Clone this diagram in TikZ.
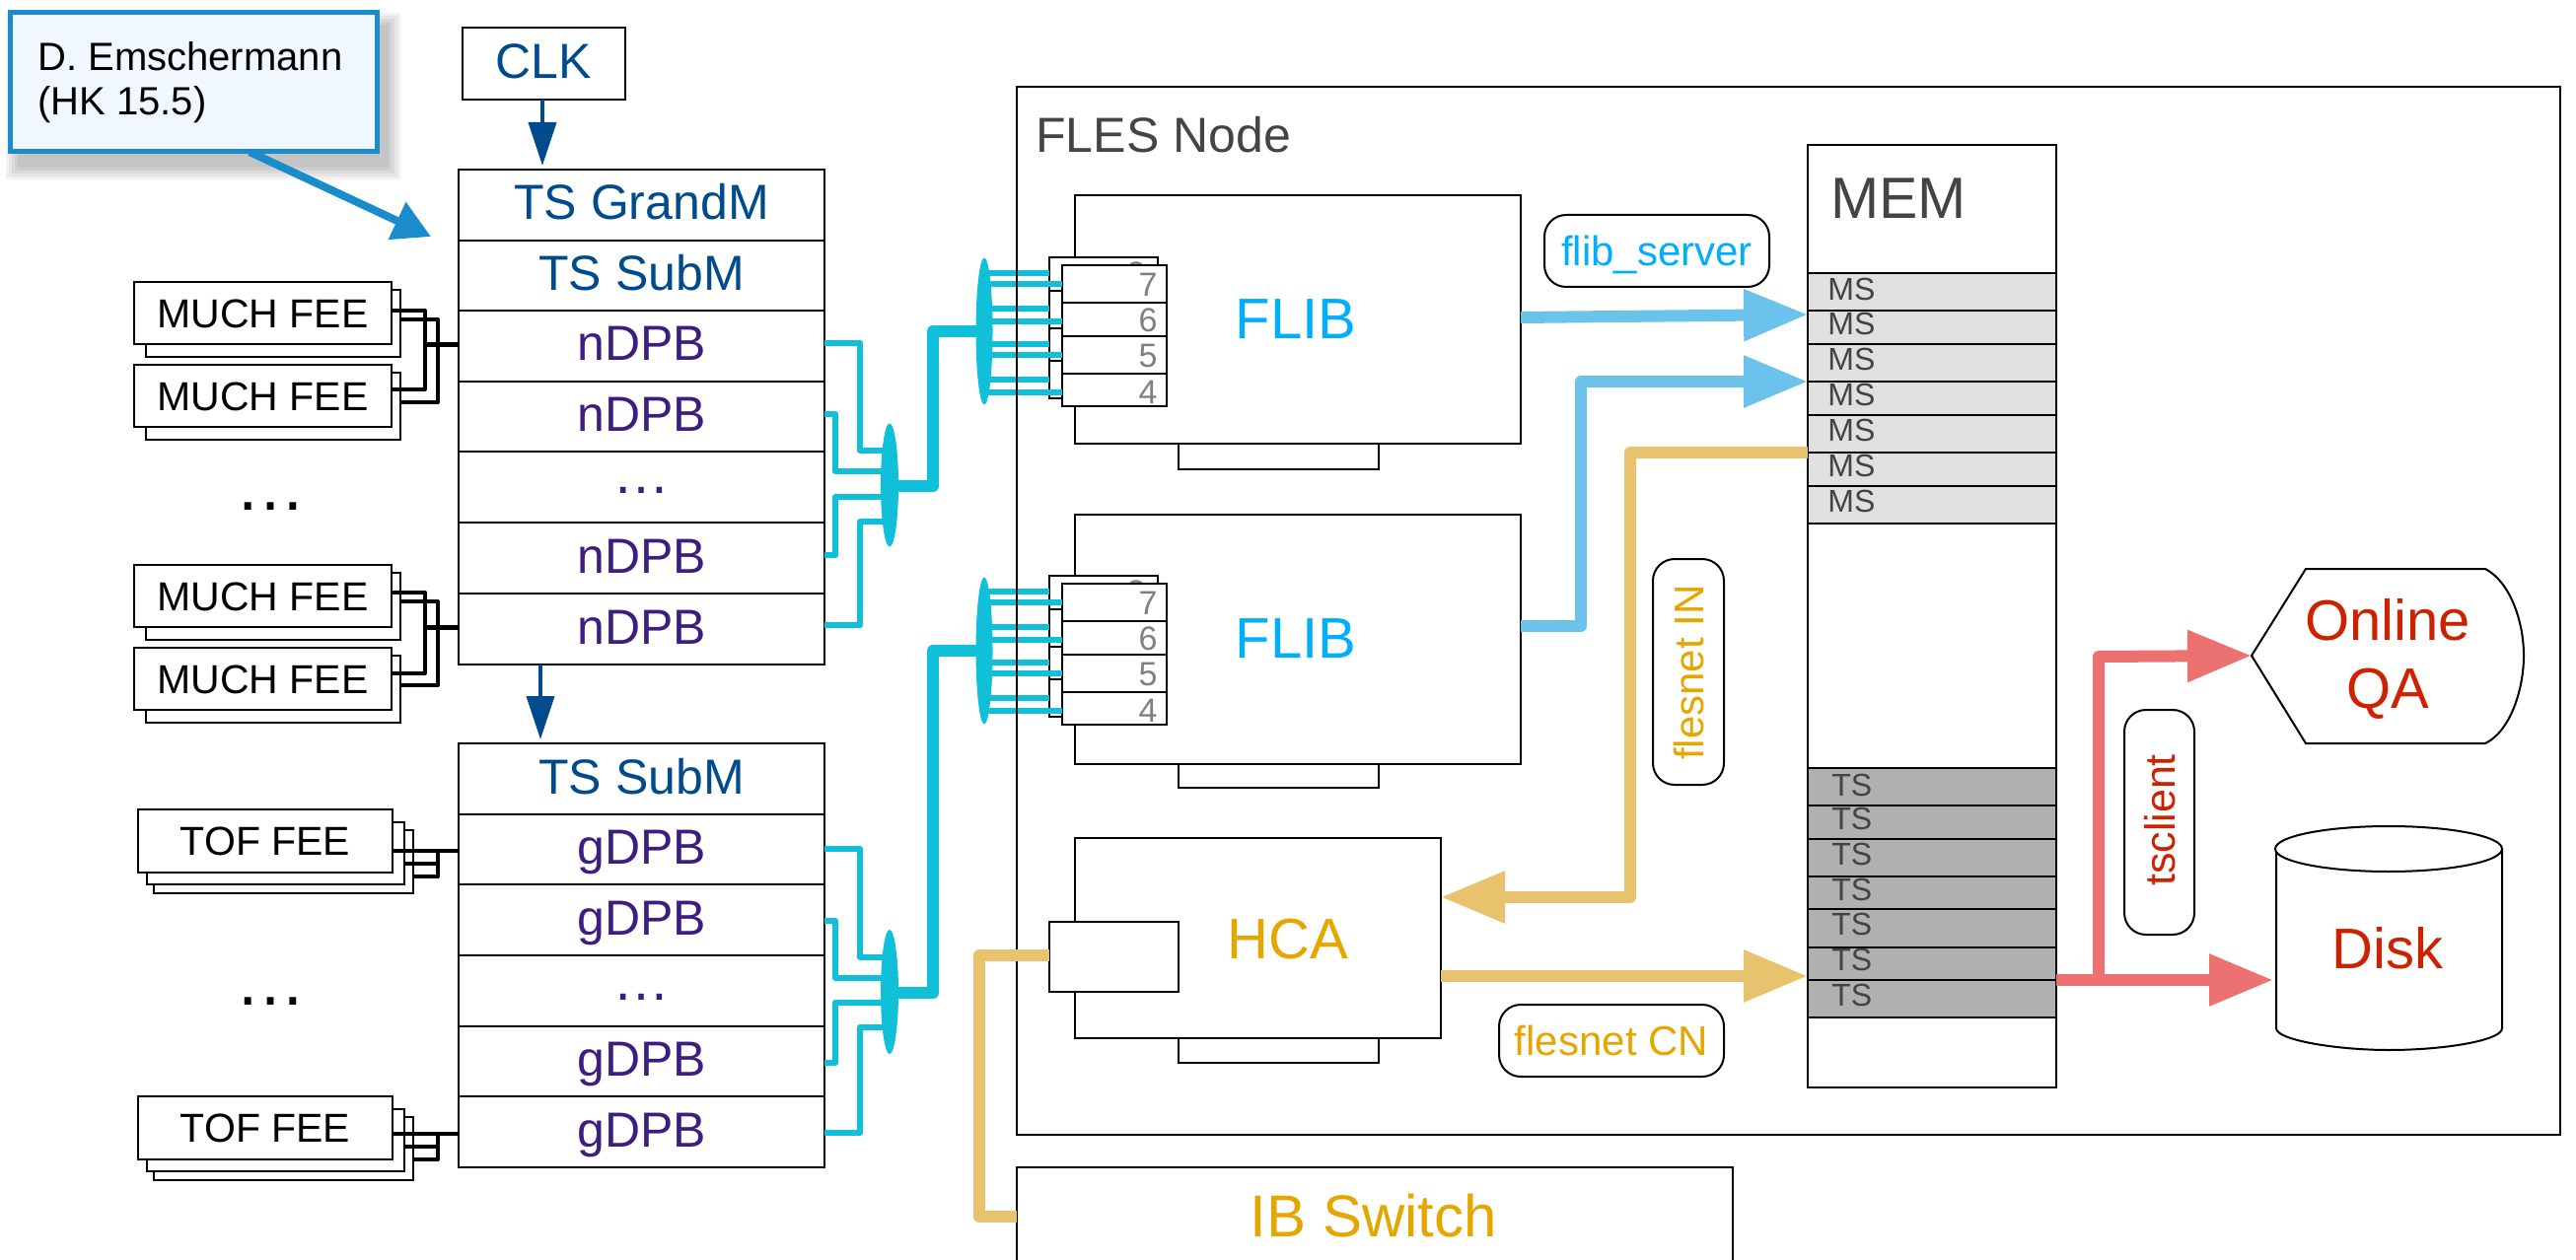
\documentclass[tikz,border=0pt]{standalone}
\usepackage{fontspec}
\setmainfont{Liberation Sans}
\usetikzlibrary{arrows.meta,shapes.geometric}
\definecolor{navyc}{HTML}{004B8D}
\definecolor{purplec}{HTML}{3D1D80}
\definecolor{cyanc}{HTML}{10C0D8}
\definecolor{flibc}{HTML}{00ADFF}
\definecolor{orangec}{HTML}{E6A600}
\definecolor{redc}{HTML}{CC2200}
\definecolor{greyc}{HTML}{444444}
\definecolor{lblue}{HTML}{6BC2EA}
\definecolor{lorange}{HTML}{E9C26E}
\definecolor{lred}{HTML}{EC7272}
\definecolor{callb}{HTML}{1A8CCC}
\definecolor{callf}{HTML}{F0F7FF}
\newcommand{\mybox}[7]{%
  \pgfmathsetmacro\bxw{(#5-(#3))*.5}\pgfmathsetmacro\bxh{(#6-(#4))*.5}%
  \node[#2,minimum width=\bxw pt,minimum height=\bxh pt] (#1) at ({(#3+#5)/2},{(#4+#6)/2}) {#7};}
\tikzset{
  thinbox/.style={draw=black,line width=1pt,fill=white,inner sep=0pt,outer sep=0pt,text height=0pt,text depth=0pt,anchor=center},
  plainbox/.style={draw=black,line width=1pt,inner sep=0pt,outer sep=0pt,anchor=center},
  coltext/.style={text height=18pt,text depth=3pt,font=\fontsize{25}{30}\selectfont},
  nav/.style={thinbox,coltext,text=navyc},
  pur/.style={thinbox,coltext,text=purplec},
  fee/.style={thinbox,text height=14.8pt,font=\fontsize{20.5}{24}\selectfont},
  pill/.style={draw=black,line width=1pt,fill=white,rounded corners=11pt,inner sep=0pt,outer sep=0pt,text height=15.1pt,text depth=0pt},
  big/.style={text height=20.9pt,text depth=0pt,inner sep=0pt,font=\fontsize{29}{34}\selectfont},
  lab/.style={text height=#1pt,text depth=0pt,inner sep=0pt},
  mstext/.style={lab=11.5,anchor=west,text=greyc,font=\fontsize{16}{19}\selectfont},
  digit/.style={lab=12.2,anchor=east,text=black!50,font=\fontsize{17}{20}\selectfont},
  wire/.style={draw=black,line width=2pt,line join=round},
  cyanw/.style={draw=cyanc,line width=3.2pt,line join=round},
  cyant/.style={draw=cyanc,line width=6pt,line join=round},
  flowblue/.style={draw=lblue,line width=6pt,line join=round,-{Triangle[length=32.5pt,width=25pt]}},
  floworange/.style={draw=lorange,line width=6pt,line join=round,-{Triangle[length=32.5pt,width=25pt]}},
  flowred/.style={draw=lred,line width=6pt,line join=round,-{Triangle[length=32.5pt,width=25pt]}},
  clkarrow/.style={draw=navyc,line width=2pt,-{Triangle[length=22pt,width=14pt]}},
  callarrow/.style={draw=callb,line width=4pt,-{Triangle[length=19pt,width=20pt]}},
  msrow/.style={draw=black,line width=1.2pt,fill=#1,inner sep=0pt,outer sep=0pt},
  dotsb/.style={inner sep=0pt,anchor=base,font=\fontsize{36}{40}\selectfont},
  dotsp/.style={inner sep=0pt,anchor=base,text=purplec,font=\fontsize{29}{34}\selectfont},
}
\begin{document}
\begin{tikzpicture}[x=.5pt,y=-.5pt]
\useasboundingbox (0,0) rectangle (2612,1278);
% FEE boxes
\foreach \y/\n in {286/a,370/b,573/c,657/d}{
  \mybox{mb\n}{thinbox}{148}{\y+8}{406}{\y+76}{}
  \mybox{m\n}{fee}{136}{\y}{397}{\y+63}{MUCH FEE}
}
\foreach \y/\n in {821/a,1112/b}{
  \mybox{tbb\n}{thinbox}{156}{\y+21}{419}{\y+85}{}
  \mybox{tb\n}{thinbox}{149}{\y+13}{410}{\y+76}{}
  \mybox{t\n}{fee}{140}{\y}{398}{\y+64}{TOF FEE}
}
% Columns
\mybox{clk}{nav}{469}{28}{634}{101}{CLK}
\mybox{gm}{nav}{465}{172}{836}{244}{TS GrandM}
\mybox{s1}{nav}{465}{244}{836}{315}{TS SubM}
\mybox{n1}{pur}{465}{315}{836}{387}{nDPB}
\mybox{n2}{pur}{465}{387}{836}{458}{nDPB}
\mybox{n3}{pur}{465}{458}{836}{530}{}
\mybox{n4}{pur}{465}{530}{836}{602}{nDPB}
\mybox{n5}{pur}{465}{602}{836}{674}{nDPB}
\mybox{s2}{nav}{465}{754}{836}{826}{TS SubM}
\mybox{g1}{pur}{465}{826}{836}{897}{gDPB}
\mybox{g2}{pur}{465}{897}{836}{969}{gDPB}
\mybox{g3}{pur}{465}{969}{836}{1041}{}
\mybox{g4}{pur}{465}{1041}{836}{1112}{gDPB}
\mybox{g5}{pur}{465}{1112}{836}{1184}{gDPB}
\node[dotsp] (nd) at (650,500) {…};
\node[dotsp] (gd) at (650,1014) {…};
\node[dotsb] (d1) at (274,517) {…};
\node[dotsb] (d2) at (274,1019) {…};
% clock arrows
\draw[clkarrow] (clk.south -| 550,0) -- (550,168);
\draw[clkarrow] (n5.south -| 548,0) -- (548,750);
% FEE wires
\draw[wire] (ma.east |- 0,315) -- (431,315) -- (431,395) -- (mb.east |- 0,395);
\draw[wire] (mba.east |- 0,324) -- (444,324) -- (444,408) -- (mbb.east |- 0,408);
\draw[wire,line width=2.5pt] (431,350) -- (n1.west |- 0,350);
\draw[wire] (mc.east |- 0,601) -- (431,601) -- (431,683) -- (md.east |- 0,683);
\draw[wire] (mbc.east |- 0,610) -- (444,610) -- (444,695) -- (mbd.east |- 0,695);
\draw[wire,line width=2.5pt] (431,636) -- (n5.west |- 0,636);
\draw[wire] (ta.east |- 0,863) -- (g1.west |- 0,863);
\draw[wire] (tba.east |- 0,876) -- (444,876) -- (444,863);
\draw[wire] (tbba.east |- 0,889) -- (444,889) -- (444,876);
\draw[wire] (tb.east |- 0,1150) -- (g5.west |- 0,1150);
\draw[wire] (tbb.east |- 0,1163) -- (444,1163) -- (444,1150);
\draw[wire] (tbbb.east |- 0,1176) -- (444,1176) -- (444,1163);
% cyan fan-in
\node[ellipse,fill=cyanc,inner sep=0pt,minimum width=9pt,minimum height=62.5pt] (e1) at (902,492) {};
\node[ellipse,fill=cyanc,inner sep=0pt,minimum width=9pt,minimum height=63pt] (e2) at (902,1006) {};
\node[ellipse,fill=cyanc,inner sep=0pt,minimum width=8.5pt,minimum height=74.5pt] (c1) at (998,336) {};
\node[ellipse,fill=cyanc,inner sep=0pt,minimum width=8.5pt,minimum height=74.5pt] (c2) at (998,660) {};
\draw[cyanw] (n1.east |- 0,348) -- (872,348) -- (872,457) -- (e1.center |- 0,457);
\draw[cyanw] (n2.east |- 0,420) -- (847,420) -- (847,478) -- (e1.center |- 0,478);
\draw[cyanw] (n4.east |- 0,563) -- (847,563) -- (847,504) -- (e1.center |- 0,504);
\draw[cyanw] (n5.east |- 0,634) -- (872,634) -- (872,529) -- (e1.center |- 0,529);
\draw[cyanw] (g1.east |- 0,861) -- (872,861) -- (872,971) -- (e2.center |- 0,971);
\draw[cyanw] (g2.east |- 0,934) -- (847,934) -- (847,992) -- (e2.center |- 0,992);
\draw[cyanw] (g4.east |- 0,1078) -- (847,1078) -- (847,1017) -- (e2.center |- 0,1017);
\draw[cyanw] (g5.east |- 0,1149) -- (872,1149) -- (872,1042) -- (e2.center |- 0,1042);
\draw[cyant] (e1.center |- 0,493) -- (946,493) -- (946,336) -- (c1.center);
\draw[cyant] (e2.center |- 0,1007) -- (946,1007) -- (946,660) -- (c2.center);
% FLIBs
\mybox{tab1}{thinbox}{1195}{440}{1398}{476}{}
\mybox{flib1}{thinbox}{1090}{198}{1542}{450}{}
\node[big,text=flibc] (fl1) at (1314,323) {FLIB};
\mybox{tab2}{thinbox}{1195}{760}{1398}{799}{}
\mybox{flib2}{thinbox}{1090}{522}{1542}{775}{}
\node[big,text=flibc] (fl2) at (1314,647) {FLIB};
\foreach \o/\n/\c in {0/a/c1,323/b/c2}{
  \mybox{bk1\n}{thinbox}{1064}{261+\o}{1174}{295+\o}{}
  \mybox{bk2\n}{thinbox}{1064}{295+\o}{1174}{333+\o}{}
  \mybox{bk3\n}{thinbox}{1064}{333+\o}{1174}{366+\o}{}
  \mybox{bk4\n}{thinbox}{1064}{366+\o}{1174}{404+\o}{}
  \node[digit] (dg3\n) at (1162,{277+\o}) {3};
  \mybox{fr7\n}{thinbox}{1077}{269+\o}{1183}{307+\o}{}
  \mybox{fr6\n}{thinbox}{1077}{307+\o}{1183}{341+\o}{}
  \mybox{fr5\n}{thinbox}{1077}{341+\o}{1183}{379+\o}{}
  \mybox{fr4\n}{thinbox}{1077}{379+\o}{1183}{412+\o}{}
  \node[digit] (dg7\n) at (1174,{288+\o}) {7};
  \node[digit] (dg6\n) at (1174,{324+\o}) {6};
  \node[digit] (dg5\n) at (1174,{360+\o}) {5};
  \node[digit] (dg4\n) at (1174,{397+\o}) {4};
  \draw[cyanw] (\c.center |- 0,{277+\o}) -- (bk1\n.west |- 0,{277+\o});
  \draw[cyanw] (\c.center |- 0,{288+\o}) -- (fr7\n.west |- 0,{288+\o});
  \draw[cyanw] (\c.center |- 0,{313+\o}) -- (bk2\n.west |- 0,{313+\o});
  \draw[cyanw] (\c.center |- 0,{326+\o}) -- (fr6\n.west |- 0,{326+\o});
  \draw[cyanw] (\c.center |- 0,{349+\o}) -- (bk3\n.west |- 0,{349+\o});
  \draw[cyanw] (\c.center |- 0,{360+\o}) -- (fr5\n.west |- 0,{360+\o});
  \draw[cyanw] (\c.center |- 0,{385+\o}) -- (bk4\n.west |- 0,{385+\o});
  \draw[cyanw] (\c.center |- 0,{398+\o}) -- (fr4\n.west |- 0,{398+\o});
}
% HCA
\mybox{tab3}{thinbox}{1195}{1040}{1398}{1078}{}
\mybox{hca}{thinbox}{1090}{850}{1461}{1053}{}
\node[big,text=orangec] (hcat) at (1306,952) {HCA};
\mybox{port}{thinbox}{1064}{935}{1195}{1006}{}
% FLES and IB
\mybox{fles}{plainbox}{1031}{88}{2596}{1151}{}
\node[lab=18,anchor=west,text=greyc,font=\fontsize{25}{30}\selectfont] (flest) at (1050,137) {FLES Node};
\mybox{ib}{thinbox}{1031}{1184}{1757}{1282}{}
\node[lab=21.6,text=orangec,font=\fontsize{30}{36}\selectfont] (ibt) at (1393,1233) {IB Switch};
\draw[draw=lorange,line width=6pt,line join=round] (port.west |- 0,969) -- (993,969) -- (993,1234) -- (ib.west |- 0,1234);
% MEM
\mybox{mem}{thinbox}{1833}{147}{2085}{1103}{}
\node[lab=21.2,anchor=west,text=greyc,font=\fontsize{29.5}{35}\selectfont] (memt) at (1856,200) {MEM};
\foreach \a/\b/\c/\i in {277/315/293/1,315/349/328/2,349/387/364/3,387/421/400/4,421/459/436/5,459/493/472/6,493/531/508/7}{
  \mybox{ms\i}{msrow=black!12}{1833}{\a}{2085}{\b}{}
}
\foreach \a/\b/\c/\i in {277/315/293/1,315/349/328/2,349/387/364/3,387/421/400/4,421/459/436/5,459/493/472/6,493/531/508/7}{
  \node[mstext] (mst\i) at (1853,\c) {MS};
}
\foreach \a/\b/\c/\i in {779/817/796/1,817/851/830/2,851/889/866/3,889/922/902/4,922/961/937/5,961/994/973/6,994/1032/1009/7}{
  \mybox{ts\i}{msrow=black!31}{1833}{\a}{2085}{\b}{}
}
\foreach \a/\b/\c/\i in {779/817/796/1,817/851/830/2,851/889/866/3,889/922/902/4,922/961/937/5,961/994/973/6,994/1032/1009/7}{
  \node[mstext] (tst\i) at (1857,\c) {TS};
}
% Online QA and Disk
\draw[black,line width=1pt,fill=white] (2283,665) -- (2338,577) -- (2520,577) .. controls (2545,590) and (2559,630) .. (2559,665) .. controls (2559,700) and (2545,742) .. (2520,754) -- (2338,754) -- cycle;
\coordinate (qa) at (2283,665);
\node[inner sep=0pt,text=redc,align=center,font=\fontsize{29}{34.5}\selectfont] (qat) at (2421,668) {Online\\QA};
\draw[black,line width=1pt,fill=white] (2308,861) -- (2308,1043) .. controls (2308,1055) and (2370,1065) .. (2422,1065) .. controls (2480,1065) and (2537,1055) .. (2537,1043) -- (2537,861);
\draw[black,line width=1pt,fill=white] (2422,861) ellipse [x radius=115,y radius=23];
\coordinate (disk) at (2305,994);
\node[big,text=redc] (diskt) at (2421,962) {Disk};
% flows
\draw[flowblue] (flib1.east |- 0,322) -- (ms2.west |- 0,319);
\draw[flowblue] (flib2.east |- 0,635) -- (1603,635) -- (1603,387) -- (ms4.west |- 0,387);
\draw[floworange] (ms6.west |- 0,459) -- (1653,459) -- (1653,910) -- (hca.east |- 0,910);
\draw[floworange] (hca.east |- 0,990) -- (ts6.west |- 0,990);
\draw[flowred] (ts7.east |- 0,994) -- (disk);
\draw[flowred] (2128,994) -- (2128,666) -- (qa);
% pills
\mybox{p1}{pill,text=flibc,font=\fontsize{21}{25}\selectfont}{1566}{218}{1794}{291}{flib\_server}
\mybox{p2}{pill,text=orangec,font=\fontsize{21}{25}\selectfont}{1520}{1019}{1748}{1092}{flesnet CN}
\mybox{p3}{pill,text height=0pt}{1676}{567}{1748}{796}{}
\node[lab=15.1,rotate=90,text=orangec,font=\fontsize{21}{25}\selectfont] (p3t) at (1712,682) {flesnet IN};
\mybox{p4}{pill,text height=0pt}{2154}{720}{2225}{948}{}
\node[lab=15.5,rotate=90,text=redc,font=\fontsize{21.5}{25}\selectfont] (p4t) at (2190,832) {tsclient};
% callout
\foreach \k in {14,11,8,5,2}{
  \fill[black,opacity=.05] (10+10-\k,13+14-\k) rectangle (382+10+\k,154+14+\k);
}
\draw[callarrow] (253,154) -- (437,240);
\mybox{call}{draw=callb,line width=2.5pt,fill=callf,inner sep=0pt,outer sep=0pt}{10}{13}{382}{154}{}
\node[inner sep=0pt,anchor=west,align=left,font=\fontsize{20}{22.5}\selectfont] (callt) at (38,84) {D. Emschermann\\(HK 15.5)};
\end{tikzpicture}
\end{document}
